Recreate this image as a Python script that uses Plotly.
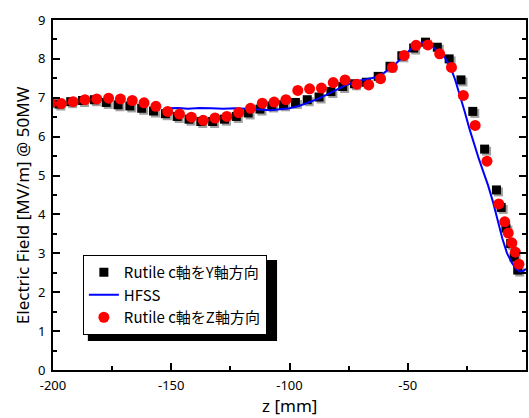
import plotly.graph_objects as go

# ---- data ----
z_y = [-197.5, -192.5, -187.5, -182.5, -177.5, -172.5, -167.5, -162.5, -157.5, -152.5,
       -147.5, -142.5, -137.5, -132.5, -127.5, -122.5, -117.5, -112.5, -107.5, -102.5,
       -97.5, -92.5, -87.5, -82.5, -77.5, -72.5, -67.5, -62.5, -57.5, -52.5,
       -47.5, -42.5, -37.5, -32.5, -27.5, -22.5, -17.5, -12.5, -10.5, -8.5,
       -6.5, -5.0, -3.5]
e_y = [6.84, 6.90, 6.93, 6.95, 6.88, 6.82, 6.79, 6.73, 6.66, 6.59,
       6.52, 6.45, 6.39, 6.39, 6.45, 6.52, 6.61, 6.71, 6.79, 6.82,
       6.88, 6.95, 7.02, 7.16, 7.29, 7.36, 7.40, 7.55, 7.81, 8.08,
       8.28, 8.43, 8.30, 8.00, 7.46, 6.65, 5.68, 4.63, 4.18, 3.65,
       3.25, 2.90, 2.57]

z_z = [-201.0, -196.5, -191.5, -186.5, -181.5, -176.5, -171.5, -166.5, -161.5, -156.5,
       -151.5, -146.5, -141.5, -136.5, -131.5, -126.5, -121.5, -116.5, -111.5, -106.5,
       -101.5, -96.5, -91.5, -86.5, -81.5, -76.5, -71.5, -66.5, -61.5, -56.5,
       -51.5, -46.5, -41.5, -36.5, -31.5, -26.5, -21.5, -16.5, -11.5, -9.0,
       -7.5, -6.0, -4.5, -3.0]
e_z = [6.86, 6.85, 6.90, 6.95, 6.97, 6.99, 6.97, 6.93, 6.87, 6.78,
       6.65, 6.58, 6.50, 6.42, 6.48, 6.52, 6.62, 6.73, 6.86, 6.89,
       6.95, 7.19, 7.23, 7.25, 7.39, 7.46, 7.35, 7.33, 7.49, 7.78,
       8.09, 8.35, 8.36, 8.13, 7.78, 7.06, 6.29, 5.37, 4.27, 3.81,
       3.52, 3.27, 3.03, 2.72]

z_hfss = [-152, -147, -143, -138, -133, -128, -123, -118, -113, -108,
          -103, -100, -96, -92, -88, -84, -80, -76, -72, -68,
          -64, -60, -56, -52, -48, -43.5, -40, -35, -32, -30,
          -28, -26, -24, -22, -20, -18, -16, -14, -12, -10,
          -8, -6, -4, -2.5, -1, 0]
e_hfss = [6.73, 6.74, 6.72, 6.74, 6.73, 6.72, 6.73, 6.72, 6.70, 6.68,
          6.70, 6.73, 6.79, 6.87, 6.97, 7.09, 7.21, 7.33, 7.42, 7.47,
          7.52, 7.64, 7.82, 8.06, 8.29, 8.43, 8.33, 8.10, 7.80, 7.47,
          7.08, 6.66, 6.22, 5.80, 5.44, 5.09, 4.74, 4.33, 3.85, 3.38,
          3.00, 2.76, 2.59, 2.53, 2.55, 2.60]

name_y = "Rutile c軸をY軸方向"
name_h = "HFSS"
name_z = "Rutile c軸をZ軸方向"

x_ticks = [-200, -150, -100, -50, 0]
y_ticks = [0, 1, 2, 3, 4, 5, 6, 7, 8, 9]

W, H = 529, 418
ML, MR, MT, MB = 53, 1, 20, 48
pw, ph = W - ML - MR, H - MT - MB
xr, yr = [-200, 0], [0, 9]
# shadow offset of square markers: 2 px right/down, expressed in data units
dx = 2 * (xr[1] - xr[0]) / pw
dy = 2 * (yr[1] - yr[0]) / ph

FONT = "Noto Sans, Noto Sans CJK JP, sans-serif"
JFONT = "Noto Sans CJK JP, Noto Sans, sans-serif"


def px_x(p):
    return (p - ML) / pw


def px_y(p):
    return ((H - MB) - p) / ph


fig = go.Figure()
fig.add_trace(go.Scatter(x=[v + dx for v in z_y], y=[v - dy for v in e_y], mode="markers",
                         marker=dict(symbol="square", size=9, color="#a0a0a0"),
                         showlegend=False, hoverinfo="skip"))
fig.add_trace(go.Scatter(x=z_y, y=e_y, mode="markers", name=name_y,
                         marker=dict(symbol="square", size=9, color="black")))
fig.add_trace(go.Scatter(x=z_hfss, y=e_hfss, mode="lines", name=name_h,
                         line=dict(color="#0000ff", width=2)))
fig.add_trace(go.Scatter(x=z_z, y=e_z, mode="markers", name=name_z,
                         marker=dict(symbol="circle", size=11, color="#ff0000")))

# legend box (approximate extent) and its drop shadow
lx0, ly0 = 83, 255
lx1, ly1 = 272, 335
fig.add_shape(type="rect", xref="paper", yref="paper",
              x0=px_x(lx0 + 5), x1=px_x(lx1 + 6),
              y0=px_y(ly1 + 6), y1=px_y(ly0 + 5),
              fillcolor="black", line=dict(width=0), layer="above")

fig.update_layout(
    width=W, height=H,
    margin=dict(l=ML, r=MR, t=MT, b=MB),
    paper_bgcolor="white", plot_bgcolor="white",
    font=dict(family=FONT, size=13, color="black"),
    showlegend=True,
    legend=dict(x=px_x(lx0), y=px_y(ly0), xanchor="left", yanchor="top",
                bgcolor="white", bordercolor="black", borderwidth=1,
                font=dict(family=JFONT, size=15, color="black"),
                tracegroupgap=0, itemwidth=30),
    xaxis=dict(range=xr, tickmode="array", tickvals=x_ticks, ticktext=[str(v) for v in x_ticks],
               ticks="inside", ticklen=7, tickwidth=1.5, tickcolor="black",
               minor=dict(dtick=25, ticks="inside", ticklen=4, tickwidth=1.5, tickcolor="black"),
               showline=True, linewidth=2, linecolor="black", mirror=True,
               showgrid=False, zeroline=False, tickfont=dict(size=13), ticklabelstandoff=2),
    yaxis=dict(range=yr, tickmode="array", tickvals=y_ticks, ticktext=[str(v) for v in y_ticks],
               ticks="inside", ticklen=7, tickwidth=1.5, tickcolor="black",
               minor=dict(dtick=0.5, ticks="inside", ticklen=4, tickwidth=1.5, tickcolor="black"),
               showline=True, linewidth=2, linecolor="black", mirror="allticks",
               showgrid=False, zeroline=False, tickfont=dict(size=13), ticklabelstandoff=3),
    annotations=[
        dict(text="z [mm]", xref="paper", yref="paper", x=px_x(290), y=px_y(405),
             xanchor="center", yanchor="middle", showarrow=False, font=dict(size=17)),
        dict(text="Electric Field [MV/m] @ 50MW", xref="paper", yref="paper",
             x=px_x(22), y=px_y(205), textangle=-90,
             xanchor="center", yanchor="middle", showarrow=False, font=dict(size=17)),
    ],
)

fig.write_html("out.html",
               config={"displayModeBar": False},
               post_script="document.body.style.margin='0px';document.body.style.padding='0px';")
